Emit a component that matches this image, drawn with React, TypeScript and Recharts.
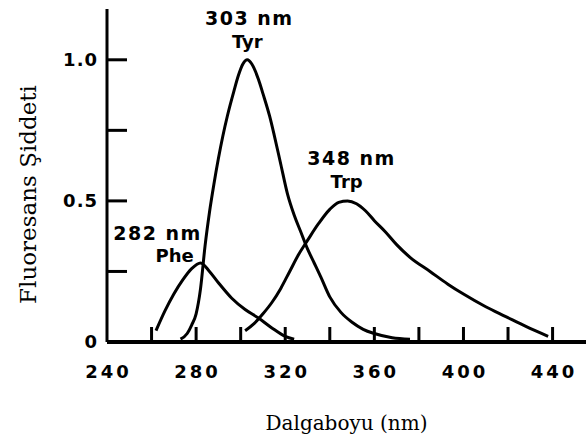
import React from 'react';
import { LineChart, Line, XAxis, YAxis, ReferenceDot, Label } from 'recharts';

// emission spectra (wavelength nm, relative intensity)
const PHE_NM = [262, 266, 270, 274, 278, 282, 286, 290, 296, 302, 308, 314, 320, 324];
const PHE_I = [0.04, 0.11, 0.17, 0.22, 0.26, 0.28, 0.25, 0.21, 0.155, 0.115, 0.085, 0.05, 0.02, 0.01];

const TYR_NM = [273, 276, 278, 280, 282, 284, 286, 288, 290, 292, 294, 297, 299, 301, 303, 305, 308, 310, 313, 315, 318, 321, 324, 327, 330, 333, 336, 340, 345, 350, 355, 360, 368, 376];
const TYR_I = [0.01, 0.03, 0.06, 0.1, 0.19, 0.34, 0.46, 0.56, 0.65, 0.73, 0.8, 0.89, 0.945, 0.985, 1.0, 0.985, 0.93, 0.88, 0.8, 0.735, 0.63, 0.525, 0.45, 0.39, 0.33, 0.28, 0.23, 0.16, 0.105, 0.07, 0.045, 0.03, 0.015, 0.01];

const TRP_NM = [302, 306, 310, 314, 318, 322, 326, 330, 335, 340, 344, 348, 352, 356, 360, 365, 370, 376, 385, 393, 400, 410, 419, 428, 438];
const TRP_I = [0.04, 0.065, 0.1, 0.14, 0.19, 0.25, 0.31, 0.36, 0.42, 0.47, 0.495, 0.5, 0.49, 0.465, 0.43, 0.39, 0.345, 0.3, 0.25, 0.205, 0.17, 0.125, 0.09, 0.055, 0.02];

const X_TICKS = [240, 260, 280, 300, 320, 340, 360, 380, 400, 420, 440];
const X_LABELS = [240, 280, 320, 360, 400, 440];
const Y_TICKS = [0, 0.25, 0.5, 0.75, 1.0];
const Y_LABEL_VALUES = [0, 0.5, 1.0];
const Y_LABEL_TEXT = ['0', '0.5', '1.0'];

const PEAK_NM = [282, 303, 348];
const PEAK_I = [0.28, 1.0, 0.5];
const PEAK_TOP = ['282 nm', '303 nm', '348 nm'];
const PEAK_NAME = ['Phe', 'Tyr', 'Trp'];

const toPoints = (nm: number[], vals: number[]) => nm.map((x, i) => ({ nm: x, v: vals[i] }));
const phe = toPoints(PHE_NM, PHE_I);
const tyr = toPoints(TYR_NM, TYR_I);
const trp = toPoints(TRP_NM, TRP_I);

const INK = '#000';
const BOLD = { fontFamily: '"DejaVu Sans", sans-serif', fontWeight: 700, fill: INK } as const;
const SERIF = { fontFamily: '"DejaVu Serif", serif', fill: INK } as const;

// pixel offsets of the two label lines relative to each peak
const LABEL_POS = [
  { tx: -43, ty: -23, nx: -26, ny: -1 },
  { tx: 2, ty: -35, nx: 0, ny: -12 },
  { tx: 4, ty: -36, nx: -1, ny: -13 },
];

const XTick = (props: any) => {
  const { x, y, payload } = props;
  const val = payload.value;
  return (
    <g>
      {val !== 240 && <line x1={x} x2={x} y1={y} y2={y - 15} stroke={INK} strokeWidth={3} />}
      {X_LABELS.includes(val) && (
        <text x={x + 1.5} y={y + 36} textAnchor="middle" fontSize={18} letterSpacing={3} {...BOLD}>
          {val}
        </text>
      )}
    </g>
  );
};

const YTick = (props: any) => {
  const { x, y, payload } = props;
  const val = payload.value;
  const idx = Y_LABEL_VALUES.indexOf(val);
  return (
    <g>
      {val !== 0 && <line x1={x} x2={x + 20} y1={y} y2={y} stroke={INK} strokeWidth={3} />}
      {idx >= 0 && (
        <text x={x - 9} y={y + 6} textAnchor="end" fontSize={18} letterSpacing={1} {...BOLD}>
          {Y_LABEL_TEXT[idx]}
        </text>
      )}
    </g>
  );
};

const peakLabel = (i: number) => (props: any) => {
  const vb = props.viewBox || {};
  const cx = vb.x + (vb.width || 0) / 2;
  const cy = vb.y + (vb.height || 0) / 2;
  const p = LABEL_POS[i];
  return (
    <g>
      <text x={cx + p.tx} y={cy + p.ty} textAnchor="middle" fontSize={19} letterSpacing={1.5} {...BOLD}>
        {PEAK_TOP[i]}
      </text>
      <text x={cx + p.nx} y={cy + p.ny} textAnchor="middle" fontSize={18} {...BOLD}>
        {PEAK_NAME[i]}
      </text>
    </g>
  );
};

export default function App() {
  return (
    <div style={{ position: 'absolute', left: 0, top: 0, width: 586, height: 444, background: '#fff' }}>
      <LineChart width={586} height={444} margin={{ top: 9, right: 0, bottom: 42, left: 47 }}>
        <XAxis
          type="number"
          dataKey="nm"
          domain={[240, 455]}
          ticks={X_TICKS}
          interval={0}
          allowDataOverflow
          height={60}
          tickSize={0}
          tickMargin={0}
          tickLine={false}
          axisLine={{ stroke: INK, strokeWidth: 4 }}
          tick={<XTick />}
        >
          <Label
            content={(p: any) => {
              const vb = p.viewBox || {};
              return (
                <text x={vb.x + vb.width / 2} y={vb.y + 88} textAnchor="middle" fontSize={20} {...SERIF}>
                  Dalgaboyu (nm)
                </text>
              );
            }}
          />
        </XAxis>
        <YAxis
          type="number"
          domain={[0, 1.18]}
          ticks={Y_TICKS}
          interval={0}
          allowDataOverflow
          width={60}
          tickSize={0}
          tickMargin={0}
          tickLine={false}
          axisLine={{ stroke: INK, strokeWidth: 3 }}
          tick={<YTick />}
        >
          <Label
            content={(p: any) => {
              const vb = p.viewBox || {};
              const x = vb.x + (vb.width || 0) - 79;
              const y = vb.y + vb.height / 2 + 19;
              return (
                <text x={x} y={y} transform={`rotate(-90 ${x} ${y})`} textAnchor="middle" dominantBaseline="central" fontSize={23} {...SERIF}>
                  Fluoresans Şiddeti
                </text>
              );
            }}
          />
        </YAxis>
        <Line data={phe} dataKey="v" type="monotone" stroke={INK} strokeWidth={3} dot={false} isAnimationActive={false} />
        <Line data={tyr} dataKey="v" type="monotone" stroke={INK} strokeWidth={3} dot={false} isAnimationActive={false} />
        <Line data={trp} dataKey="v" type="monotone" stroke={INK} strokeWidth={3} dot={false} isAnimationActive={false} />
        {PEAK_NM.map((nm, i) => (
          <ReferenceDot key={PEAK_NAME[i]} x={nm} y={PEAK_I[i]} r={0} fill="none" stroke="none" label={{ content: peakLabel(i) }} />
        ))}
      </LineChart>
    </div>
  );
}
